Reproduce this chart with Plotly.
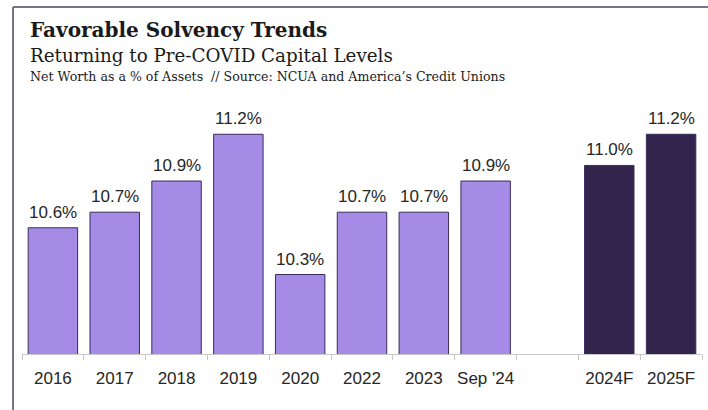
import plotly.graph_objects as go

# Net worth ratio by period (percent of assets)
categories = ["2016", "2017", "2018", "2019", "2020", "2022", "2023", "Sep '24", " ", "2024F", "2025F"]
net_worth = [10.6, 10.7, 10.9, 11.2, 10.3, 10.7, 10.7, 10.9, None, 11.0, 11.2]
is_forecast = [False, False, False, False, False, False, False, False, False, True, True]

ACTUAL_COLOR = "#A58BE6"
FORECAST_COLOR = "#33244D"
OUTLINE_COLOR = "#3A2D5C"
TEXT_COLOR = "#262626"

W, H = 708, 410
ML, MR, MT, MB = 22, 6, 100, 56
PW, PH = W - ML - MR, H - MT - MB


def px_x(x):
    return (x - ML) / PW


def px_y(y):
    return (H - MB - y) / PH


bar_colors = [FORECAST_COLOR if f else ACTUAL_COLOR for f in is_forecast]

fig = go.Figure(
    go.Bar(
        x=categories,
        y=net_worth,
        width=0.8,
        marker=dict(color=bar_colors, line=dict(color=OUTLINE_COLOR, width=1)),
        hoverinfo="skip",
    )
)

# value labels above each bar (positioned by category index)
for i, val in enumerate(net_worth):
    if val is None:
        continue
    fig.add_annotation(
        x=i, y=val, xref="x", yref="y",
        text=f"{val:.1f}%", showarrow=False,
        yanchor="bottom", yshift=4,
        font=dict(family="Liberation Sans, Arial, sans-serif", size=17, color=TEXT_COLOR),
    )

# heading block: (text, font size, baseline in px from top)
headings = [
    ("<b>Favorable Solvency Trends</b>", 20, 39.5),
    ("Returning to Pre-COVID Capital Levels", 18.3, 64),
    ("Net Worth as a % of Assets  // Source: NCUA and America\u2019s Credit Unions", 12.6, 82.5),
]
for text, size, baseline in headings:
    fig.add_annotation(
        x=px_x(28), y=px_y(baseline + size * 0.24), xref="paper", yref="paper",
        xanchor="left", yanchor="bottom", text=text, showarrow=False,
        font=dict(family="DejaVu Serif, serif", size=size, color="#1A1A1A"),
    )

# panel frame: top and left rules
frame = dict(color="#74748A", width=2)
fig.add_shape(type="line", xref="paper", yref="paper",
              x0=px_x(13), x1=px_x(W + 2), y0=px_y(7), y1=px_y(7), line=frame)
fig.add_shape(type="line", xref="paper", yref="paper",
              x0=px_x(13), x1=px_x(13), y0=px_y(7), y1=px_y(H + 2), line=frame)

fig.update_layout(
    width=W, height=H,
    margin=dict(l=ML, r=MR, t=MT, b=MB),
    paper_bgcolor="white", plot_bgcolor="white",
    showlegend=False,
    bargap=0.2,
    xaxis=dict(
        type="category", categoryorder="array", categoryarray=categories,
        range=[-0.5, len(categories) - 0.5], tickangle=0,
        tickson="boundaries", ticks="outside", ticklen=5, tickcolor="#C8C8C8",
        ticklabelstandoff=9,
        showline=True, linecolor="#C8C8C8", linewidth=1,
        showgrid=False, zeroline=False,
        tickfont=dict(family="Liberation Sans, Arial, sans-serif", size=17, color=TEXT_COLOR),
    ),
    yaxis=dict(range=[9.79, 11.42], visible=False, showgrid=False, zeroline=False),
)

fig.write_html("out.html")
